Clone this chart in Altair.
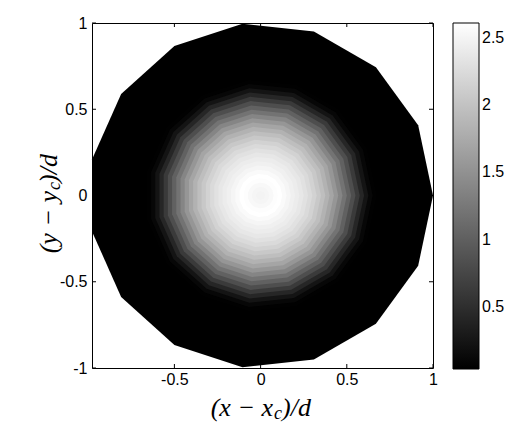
import altair as alt
import pandas as pd

# Upper-half vertices of the 15-sided outline (lower half mirrors them)
vertex_x = [1.000, 0.914, 0.669, 0.309, -0.105, -0.500, -0.809, -0.978]
vertex_y = [0.000, 0.407, 0.743, 0.951, 0.995, 0.866, 0.588, 0.208]

# Radial profile of the field: nested outlines (scale factor) and the value inside each band
ring_radius = [1.0, 0.675, 0.65, 0.625, 0.6, 0.575, 0.55, 0.525, 0.5, 0.475, 0.45, 0.425,
               0.4, 0.375, 0.35, 0.325, 0.3, 0.275, 0.25, 0.225, 0.2, 0.175, 0.15, 0.125,
               0.1, 0.075, 0.05, 0.025]
ring_value = [0.04, 0.05, 0.11, 0.24, 0.42, 0.62, 0.83, 1.02, 1.20, 1.38, 1.55, 1.70,
              1.83, 1.95, 2.06, 2.16, 2.24, 2.31, 2.37, 2.42, 2.46, 2.51, 2.56, 2.61,
              2.59, 2.54, 2.51, 2.49]

x_ticks = [-0.5, 0, 0.5, 1]
y_ticks = [-1, -0.5, 0, 0.5, 1]
cbar_ticks = [0.5, 1, 1.5, 2, 2.5]
color_domain = [0.04, 2.61]

rows = []
for i, (r, v) in enumerate(zip(ring_radius, ring_value)):
    for vx, vy in zip(vertex_x, vertex_y):
        rows.append({"ring": f"r{i:02d}", "value": v, "x": r * vx, "y": r * vy, "y2": -r * vy})
df = pd.DataFrame(rows)

W, H = 341, 345
FONT = "Liberation Sans"
SERIF = "Liberation Serif"
LABEL_SIZE = 16

xscale = alt.Scale(domain=[-0.978, 1], nice=False, zero=False)
yscale = alt.Scale(domain=[-1, 1], nice=False, zero=False)

axis_common = dict(title=None, domain=False, ticks=False, tickSize=0, grid=False,
                   labelFont=FONT, labelFontSize=LABEL_SIZE, labelColor="black",
                   labelFlush=False, labelExpr="'' + datum.value")
xaxis = alt.Axis(values=x_ticks, labelPadding=3, **axis_common)
yaxis = alt.Axis(values=y_ticks, labelPadding=5, **axis_common)

area = alt.Chart(df).mark_area(orient="vertical", interpolate="linear").encode(
    x=alt.X("x:Q", scale=xscale, axis=xaxis),
    y=alt.Y("y:Q", scale=yscale, stack=None, axis=yaxis),
    y2="y2:Q",
    detail="ring:N",
    color=alt.Color(
        "value:Q",
        title=None,
        scale=alt.Scale(domain=color_domain, range=["#000000", "#ffffff"], interpolate="rgb"),
        legend=alt.Legend(
            orient="none", legendX=361, legendY=0, direction="vertical",
            gradientLength=346, gradientThickness=26,
            gradientStrokeColor="black", gradientStrokeWidth=1,
            values=cbar_ticks, labelFont=FONT, labelFontSize=LABEL_SIZE, labelColor="black",
            labelOffset=3, labelOverlap=False, padding=0,
            labelExpr="'' + datum.value",
        ),
    ),
)

xt = pd.DataFrame({"x": x_ticks})
yt = pd.DataFrame({"y": y_ticks})

tick_bottom = alt.Chart(xt).mark_rule(color="black", strokeWidth=1).encode(
    x=alt.X("x:Q", scale=xscale, axis=xaxis), y=alt.value(H), y2=alt.value(H - 4))
tick_top = alt.Chart(xt).mark_rule(color="black", strokeWidth=1).encode(
    x=alt.X("x:Q", scale=xscale, axis=xaxis), y=alt.value(0), y2=alt.value(4))
tick_left = alt.Chart(yt).mark_rule(color="black", strokeWidth=1).encode(
    y=alt.Y("y:Q", scale=yscale, axis=yaxis), x=alt.value(0), x2=alt.value(4))
tick_right = alt.Chart(yt).mark_rule(color="black", strokeWidth=1).encode(
    y=alt.Y("y:Q", scale=yscale, axis=yaxis), x=alt.value(W), x2=alt.value(W - 4))

one = pd.DataFrame({"k": [0]})

def txt(s, x, y, size=26, align="left", angle=0):
    return alt.Chart(one).mark_text(
        text=s, font=SERIF, fontStyle="italic", fontSize=size, color="black",
        align=align, baseline="alphabetic", angle=angle,
    ).encode(x=alt.value(x), y=alt.value(y))

xtitle = [
    txt("(x − x", 181, 393, align="right"),
    txt("c", 182, 396, size=18),
    txt(")/d", 190, 393),
]
ytitle = [
    txt("(y − y", -35, 168, align="right", angle=270),
    txt("c", -32, 167, size=18, angle=270),
    txt(")/d", -35, 160, angle=270),
]

chart = alt.layer(area, tick_bottom, tick_top, tick_left, tick_right, *xtitle, *ytitle).properties(
    width=W, height=H,
    autosize=alt.AutoSizeParams(type="none"),
    padding={"left": 84, "top": 15, "right": 77, "bottom": 54},
).configure_view(stroke="black", strokeWidth=1).configure_axis(grid=False)

chart.save("out.html", embed_options={"renderer": "svg", "actions": False})
